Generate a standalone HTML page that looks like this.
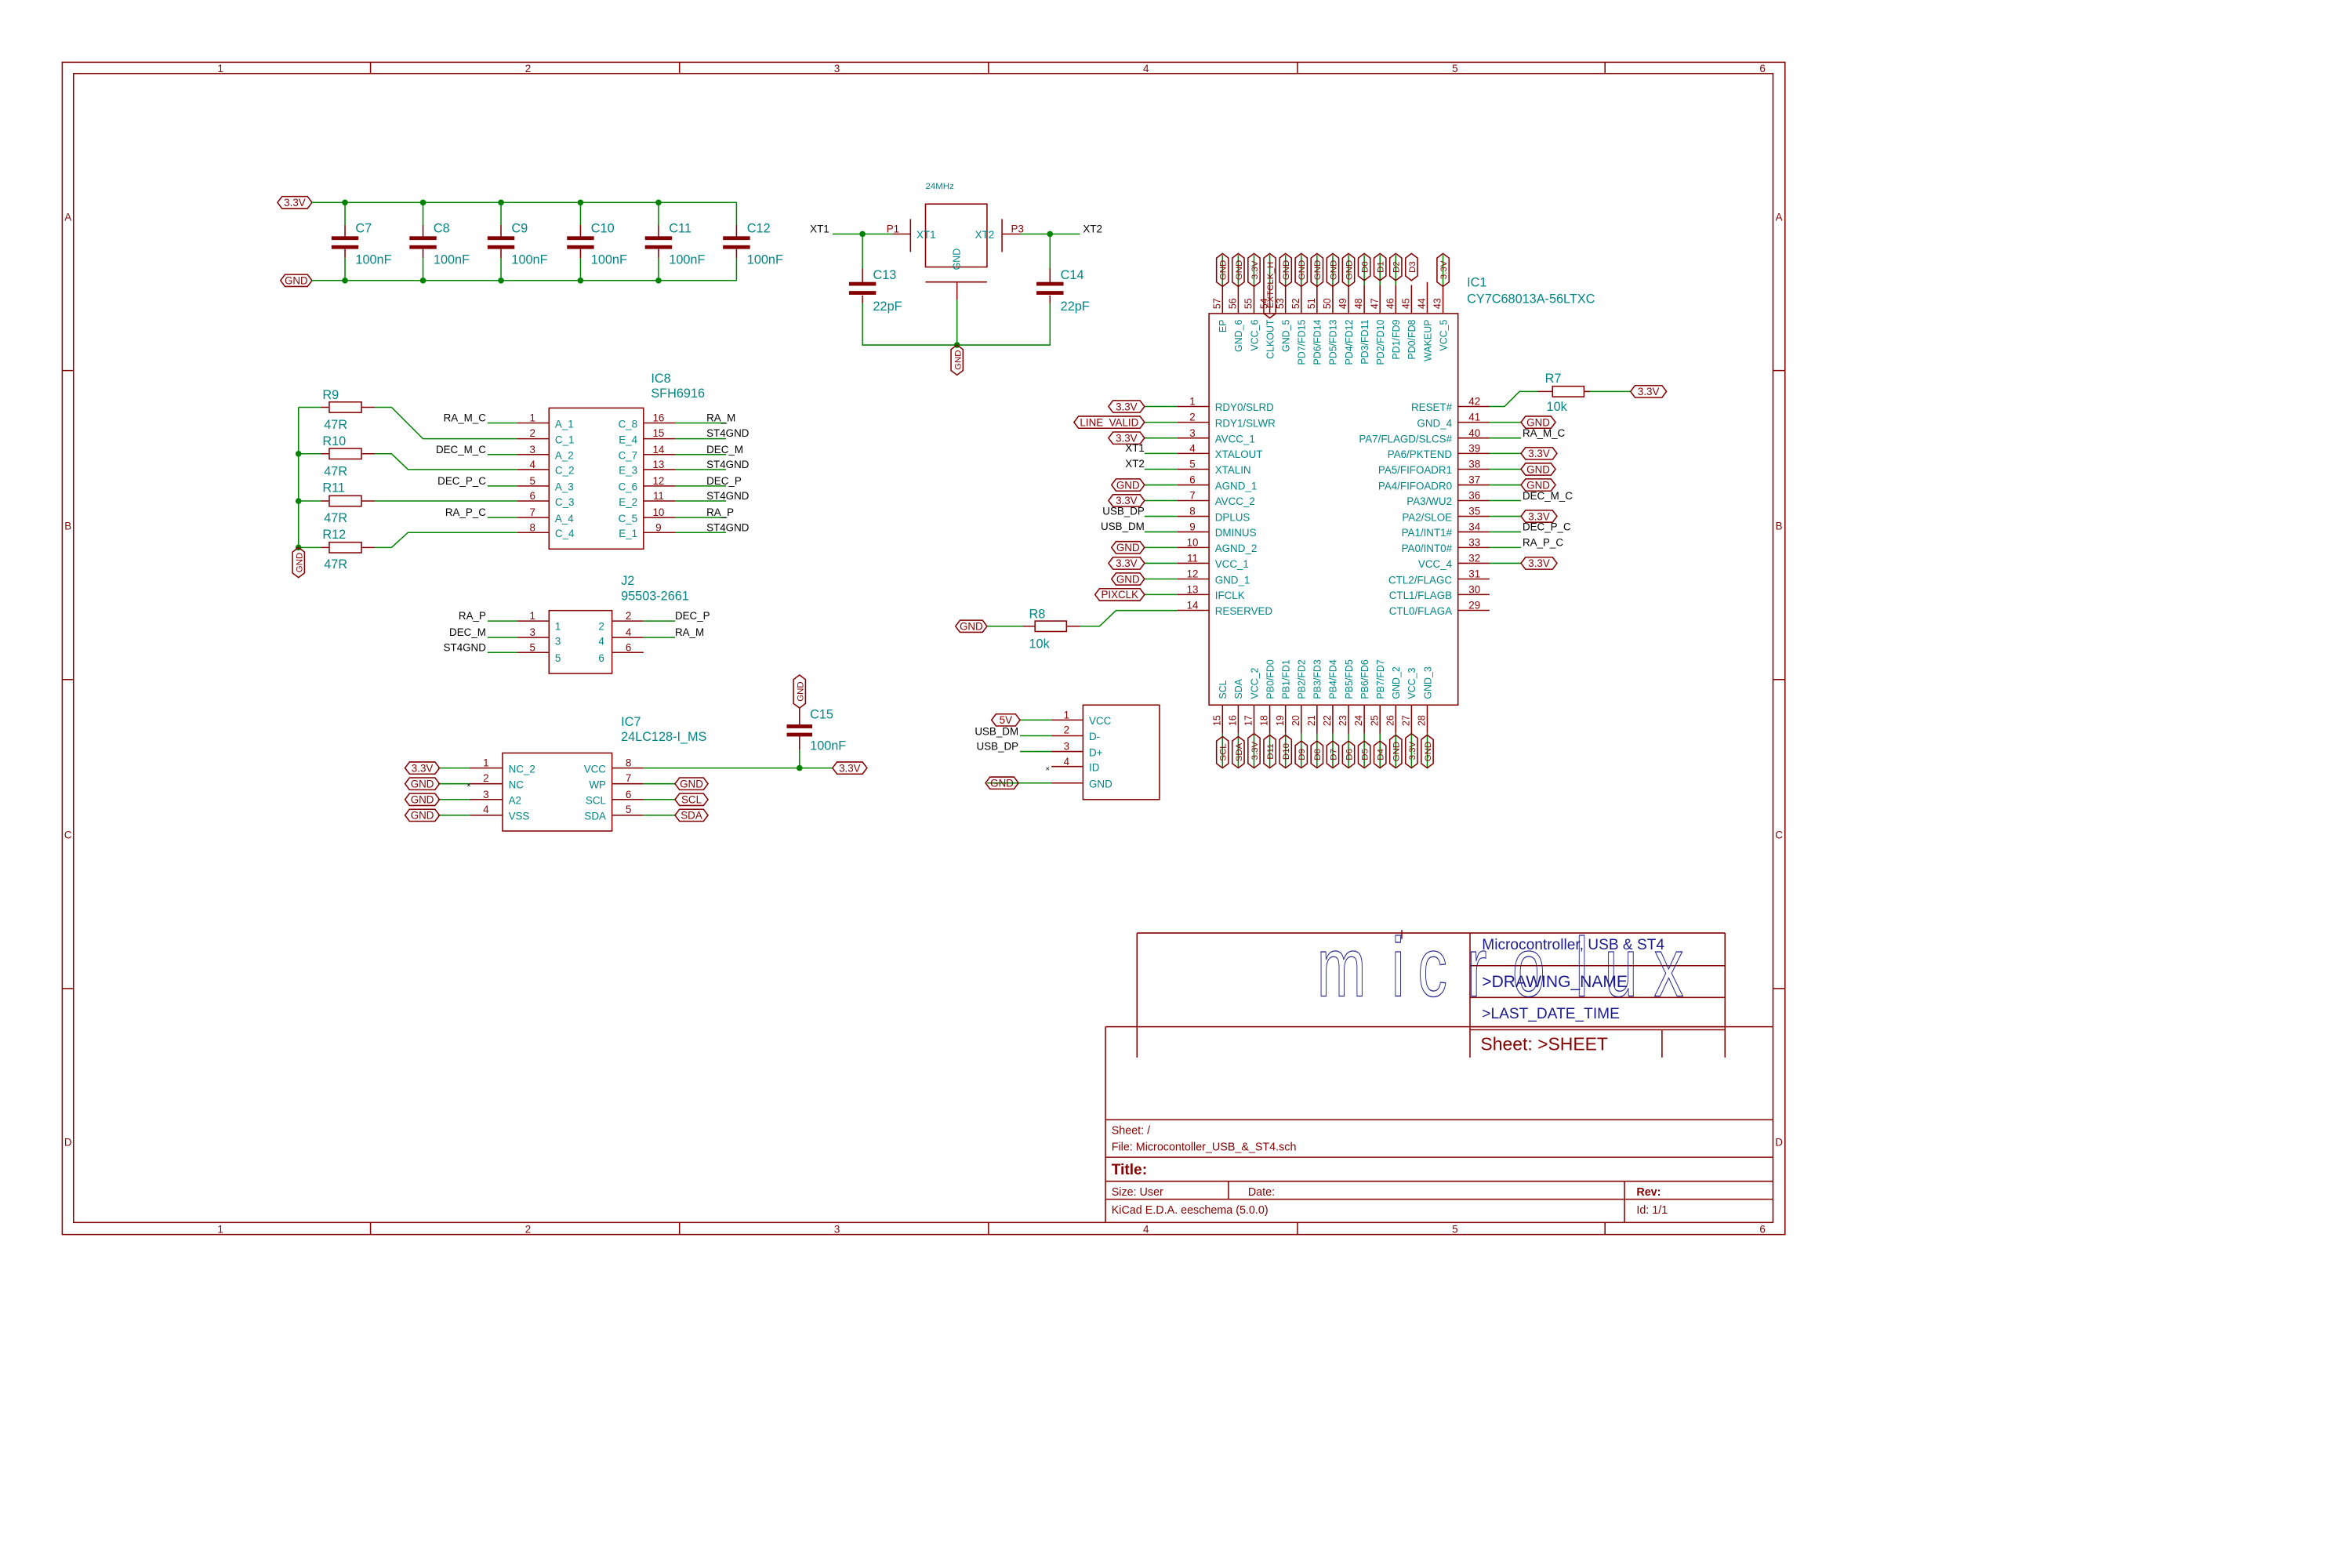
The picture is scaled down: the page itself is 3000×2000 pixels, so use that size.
<!DOCTYPE html>
<html><head><meta charset="utf-8"><style>
html,body{margin:0;padding:0;background:#fff;}
svg{display:block;}
.f{fill:none;stroke:#840000;stroke-width:0.8;}
.w{fill:none;stroke:#008400;stroke-width:0.8;}
.p{fill:none;stroke:#840000;stroke-width:0.8;}
text{font-family:"Liberation Sans",sans-serif;}
.t{fill:#008484;font-size:8.5px;}
.tn{fill:#008484;font-size:7px;}
.n{fill:#840000;font-size:7px;}
.k{fill:#000;font-size:7px;}
.fl{fill:#840000;font-size:7px;}
.fr{fill:#840000;font-size:7px;}
.dot{fill:#008400;}
.pl{fill:#840000;}
</style></head><body>
<svg width="3000" height="2000" viewBox="0 0 1568 1045.33" xmlns="http://www.w3.org/2000/svg">
<rect x="0" y="0" width="1568" height="1046" fill="#fff"/>
<!-- frame -->
<rect x="41.5" y="41.5" width="1148.5" height="781.5" class="f"/>
<rect x="49" y="49" width="1133" height="766" class="f"/>
<g class="f">
<path d="M247 41.5V49M453 41.5V49M659 41.5V49M865 41.5V49M1070 41.5V49"/>
<path d="M247 815V823M453 815V823M659 815V823M865 815V823M1070 815V823"/>
<path d="M41.5 247H49M41.5 453H49M41.5 659H49M1182 247H1190M1182 453H1190M1182 659H1190"/>
</g>
<g class="fr" text-anchor="middle" style="font-size:7px">
<text x="147" y="48">1</text><text x="352" y="48">2</text><text x="558" y="48">3</text><text x="764" y="48">4</text><text x="970" y="48">5</text><text x="1175" y="48">6</text>
<text x="147" y="822">1</text><text x="352" y="822">2</text><text x="558" y="822">3</text><text x="764" y="822">4</text><text x="970" y="822">5</text><text x="1175" y="822">6</text>
<text x="45.3" y="147">A</text><text x="45.3" y="353">B</text><text x="45.3" y="559">C</text><text x="45.3" y="764">D</text>
<text x="1186" y="147">A</text><text x="1186" y="353">B</text><text x="1186" y="559">C</text><text x="1186" y="764">D</text>
</g>

<!-- decoupling caps -->
<path class="f" d="M185 135L188 131H205L208 135L205 139H188Z"/><text class="fl" x="196.5" y="137.5" text-anchor="middle">3.3V</text>
<path class="f" d="M187 187L190 183H205L208 187L205 191H190Z"/><text class="fl" x="197.5" y="189.5" text-anchor="middle">GND</text>
<path class="w" d="M208 135H491V150M208 187H491V172"/>
<g class="w"><path d="M230 135V150M282 135V150M334 135V150M387 135V150M439 135V150M230 187V172M282 187V172M334 187V172M387 187V172M439 187V172"/></g>
<g class="p"><path d="M230 150V159M282 150V159M334 150V159M387 150V159M439 150V159M491 150V159M230 172V166M282 172V166M334 172V166M387 172V166M439 172V166M491 172V166"/></g>
<g class="pl">
<rect x="221" y="157.5" width="18" height="2.5"/><rect x="221" y="163.5" width="18" height="2.5"/>
<rect x="273" y="157.5" width="18" height="2.5"/><rect x="273" y="163.5" width="18" height="2.5"/>
<rect x="325" y="157.5" width="18" height="2.5"/><rect x="325" y="163.5" width="18" height="2.5"/>
<rect x="378" y="157.5" width="18" height="2.5"/><rect x="378" y="163.5" width="18" height="2.5"/>
<rect x="430" y="157.5" width="18" height="2.5"/><rect x="430" y="163.5" width="18" height="2.5"/>
<rect x="482" y="157.5" width="18" height="2.5"/><rect x="482" y="163.5" width="18" height="2.5"/>
</g>
<g class="dot"><circle cx="230" cy="135" r="2"/><circle cx="282" cy="135" r="2"/><circle cx="334" cy="135" r="2"/><circle cx="387" cy="135" r="2"/><circle cx="439" cy="135" r="2"/>
<circle cx="230" cy="187" r="2"/><circle cx="282" cy="187" r="2"/><circle cx="334" cy="187" r="2"/><circle cx="387" cy="187" r="2"/><circle cx="439" cy="187" r="2"/></g>
<g class="t">
<text x="237" y="155">C7</text><text x="237" y="176">100nF</text>
<text x="289" y="155">C8</text><text x="289" y="176">100nF</text>
<text x="341" y="155">C9</text><text x="341" y="176">100nF</text>
<text x="394" y="155">C10</text><text x="394" y="176">100nF</text>
<text x="446" y="155">C11</text><text x="446" y="176">100nF</text>
<text x="498" y="155">C12</text><text x="498" y="176">100nF</text>
</g>

<!-- crystal -->
<text class="tn" x="617" y="126" style="font-size:6px">24MHz</text>
<rect class="p" x="617" y="136" width="41" height="42"/>
<path class="p" d="M607 146V168M668 146V168M595 156H607M668 156H680M617 188H658M638 188V200"/>
<path class="w" d="M555 156H595M680 156H720M575 156V179M700 156V179M575 202V230H700V202M638 200V230"/>
<path class="p" d="M575 179V189M575 197V202M700 179V189M700 197V202"/>
<g class="pl"><rect x="566" y="188" width="18" height="2.5"/><rect x="566" y="194" width="18" height="2.5"/><rect x="691" y="188" width="18" height="2.5"/><rect x="691" y="194" width="18" height="2.5"/></g>
<g class="dot"><circle cx="575" cy="156" r="2"/><circle cx="700" cy="156" r="2"/><circle cx="638" cy="230" r="2"/></g>
<text class="k" x="540" y="155">XT1</text><text class="k" x="722" y="155">XT2</text>
<text class="n" x="591" y="155">P1</text><text class="n" x="674" y="155">P3</text>
<text class="tn" x="611" y="159">XT1</text><text class="tn" x="650" y="159">XT2</text>
<text class="tn" transform="translate(640,180) rotate(-90)" style="font-size:6.5px">GND</text>
<text class="t" x="582" y="186">C13</text><text class="t" x="582" y="207">22pF</text>
<text class="t" x="707" y="186">C14</text><text class="t" x="707" y="207">22pF</text>
<path class="f" d="M638 230L642 233V247L638 250L634 247V233Z"/><text class="fl" transform="translate(640.5,240) rotate(-90)" text-anchor="middle" style="font-size:6px">GND</text>

<!-- resistors R9-R12 -->
<path class="w" d="M199 271.5V365M199 271.5H214M199 302.5H214M199 334H214M199 365H214"/>
<path class="p" d="M214 271.5H219M214 302.5H219M214 334H219M214 365H219M241 271.5H250M241 302.5H250M241 334H250M241 365H250"/>
<g class="p"><rect x="219.5" y="268" width="21.5" height="7"/><rect x="219.5" y="299" width="21.5" height="7"/><rect x="219.5" y="330.5" width="21.5" height="7"/><rect x="219.5" y="361.5" width="21.5" height="7"/></g>
<path class="w" d="M250 271.5H261L282 292.5H345M250 302.5H261L272 313H345M250 334H345M250 365H261L272 355H345M325 282H345M325 303H345M325 324H345M325 345H345"/>
<g class="dot"><circle cx="199" cy="302.5" r="2"/><circle cx="199" cy="334" r="2"/><circle cx="199" cy="365" r="2"/></g>
<path class="f" d="M199 365L203 368V382L199 385L195 382V368Z"/><text class="fl" transform="translate(201.5,375) rotate(-90)" text-anchor="middle" style="font-size:6px">GND</text>
<g class="t"><text x="215" y="266">R9</text><text x="216" y="286">47R</text>
<text x="215" y="297">R10</text><text x="216" y="317">47R</text>
<text x="215" y="328">R11</text><text x="216" y="348">47R</text>
<text x="215" y="359">R12</text><text x="216" y="379">47R</text></g>

<!-- IC8 -->
<text class="t" x="434" y="255">IC8</text><text class="t" x="434" y="265">SFH6916</text>
<rect class="p" x="366" y="272" width="63" height="94"/>
<path class="p" d="M345 282H366M345 292.5H366M345 303H366M345 313H366M345 324H366M345 334H366M345 345H366M345 355H366M429 282H450M429 292.5H450M429 303H450M429 313H450M429 324H450M429 334H450M429 345H450M429 355H450"/>
<path class="w" d="M450 282H484M450 292.5H484M450 303H484M450 313H484M450 324H484M450 334H484M450 345H484M450 355H484"/>
<g class="n" text-anchor="middle"><text x="355" y="281">1</text><text x="355" y="291">2</text><text x="355" y="302">3</text><text x="355" y="312">4</text><text x="355" y="323">5</text><text x="355" y="333">6</text><text x="355" y="344">7</text><text x="355" y="354">8</text>
<text x="439" y="281">16</text><text x="439" y="291">15</text><text x="439" y="302">14</text><text x="439" y="312">13</text><text x="439" y="323">12</text><text x="439" y="333">11</text><text x="439" y="344">10</text><text x="439" y="354">9</text></g>
<g class="tn"><text x="370" y="285">A_1</text><text x="370" y="295.5">C_1</text><text x="370" y="306">A_2</text><text x="370" y="316">C_2</text><text x="370" y="327">A_3</text><text x="370" y="337">C_3</text><text x="370" y="348">A_4</text><text x="370" y="358">C_4</text></g>
<g class="tn" text-anchor="end"><text x="425" y="285">C_8</text><text x="425" y="295.5">E_4</text><text x="425" y="306">C_7</text><text x="425" y="316">E_3</text><text x="425" y="327">C_6</text><text x="425" y="337">E_2</text><text x="425" y="348">C_5</text><text x="425" y="358">E_1</text></g>
<g class="k" text-anchor="end"><text x="324" y="281">RA_M_C</text><text x="324" y="302">DEC_M_C</text><text x="324" y="323">DEC_P_C</text><text x="324" y="344">RA_P_C</text></g>
<g class="k"><text x="471" y="281">RA_M</text><text x="471" y="291">ST4GND</text><text x="471" y="302">DEC_M</text><text x="471" y="312">ST4GND</text><text x="471" y="323">DEC_P</text><text x="471" y="333">ST4GND</text><text x="471" y="344">RA_P</text><text x="471" y="354">ST4GND</text></g>

<!-- J2 -->
<text class="t" x="414" y="390">J2</text><text class="t" x="414" y="400">95503-2661</text>
<rect class="p" x="366" y="407" width="42" height="42"/>
<path class="p" d="M345 414H366M345 425H366M345 435H366M408 414H429M408 425H429M408 435H429"/>
<path class="w" d="M325 414H345M325 425H345M325 435H345M429 414H450M429 425H450"/>
<g class="n" text-anchor="middle"><text x="355" y="413">1</text><text x="355" y="424">3</text><text x="355" y="434">5</text><text x="419" y="413">2</text><text x="419" y="424">4</text><text x="419" y="434">6</text></g>
<g class="tn"><text x="370" y="420">1</text><text x="370" y="430">3</text><text x="370" y="441">5</text><text x="399" y="420">2</text><text x="399" y="430">4</text><text x="399" y="441">6</text></g>
<g class="k"><text x="324" y="413" text-anchor="end">RA_P</text><text x="324" y="424" text-anchor="end">DEC_M</text><text x="324" y="434" text-anchor="end">ST4GND</text><text x="450" y="413">DEC_P</text><text x="450" y="424">RA_M</text></g>

<!-- IC7 -->
<text class="t" x="414" y="484">IC7</text><text class="t" x="414" y="494">24LC128-I_MS</text>
<rect class="p" x="335" y="502" width="73" height="52"/>
<path class="p" d="M313 512H335M313 522.5H335M313 533H335M313 543.5H335M408 512H429M408 522.5H429M408 533H429M408 543.5H429"/>
<path class="w" d="M292 512H313M292 522.5H313M292 533H313M292 543.5H313M429 512H555M429 522.5H450M429 533H450M429 543.5H450"/>
<text class="k" x="311" y="525" style="font-size:5px">×</text>
<path class="f" d="M270 512L273 508H290L293 512L290 516H273Z"/><text class="fl" x="281.5" y="514.5" text-anchor="middle">3.3V</text>
<path class="f" d="M270 522.5L273 518.5H290L293 522.5L290 526.5H273Z"/><text class="fl" x="281.5" y="525" text-anchor="middle">GND</text>
<path class="f" d="M270 533L273 529H290L293 533L290 537H273Z"/><text class="fl" x="281.5" y="535.5" text-anchor="middle">GND</text>
<path class="f" d="M270 543.5L273 539.5H290L293 543.5L290 547.5H273Z"/><text class="fl" x="281.5" y="546" text-anchor="middle">GND</text>
<path class="f" d="M450 522.5L453 518.5H469L472 522.5L469 526.5H453Z"/><text class="fl" x="461" y="525" text-anchor="middle">GND</text>
<path class="f" d="M450 533L453 529H469L472 533L469 537H453Z"/><text class="fl" x="461" y="535.5" text-anchor="middle">SCL</text>
<path class="f" d="M450 543.5L453 539.5H469L472 543.5L469 547.5H453Z"/><text class="fl" x="461" y="546" text-anchor="middle">SDA</text>
<path class="f" d="M555 512L558 508H575L578 512L575 516H558Z"/><text class="fl" x="566.5" y="514.5" text-anchor="middle">3.3V</text>
<g class="n" text-anchor="middle"><text x="324" y="511">1</text><text x="324" y="521">2</text><text x="324" y="532">3</text><text x="324" y="542">4</text><text x="419" y="511">8</text><text x="419" y="521">7</text><text x="419" y="532">6</text><text x="419" y="542">5</text></g>
<g class="tn"><text x="339" y="515">NC_2</text><text x="339" y="525.5">NC</text><text x="339" y="536">A2</text><text x="339" y="546.5">VSS</text></g>
<g class="tn" text-anchor="end"><text x="404" y="515">VCC</text><text x="404" y="525.5">WP</text><text x="404" y="536">SCL</text><text x="404" y="546.5">SDA</text></g>
<!-- C15 -->
<path class="f" d="M533 450L537 453V469L533 472L529 469V453Z"/><text class="fl" transform="translate(535.5,461) rotate(-90)" text-anchor="middle" style="font-size:6px">GND</text>
<path class="p" d="M533 472V484M533 490V500"/><path class="w" d="M533 500V512"/>
<g class="pl"><rect x="524.5" y="483" width="17" height="2.5"/><rect x="524.5" y="488.5" width="17" height="2.5"/></g>
<circle class="dot" cx="533" cy="512" r="2"/>
<text class="t" x="540" y="479">C15</text><text class="t" x="540" y="500">100nF</text>

<!-- USB -->
<rect class="p" x="722" y="470" width="51" height="63"/>
<path class="p" d="M701 480H722M701 490.5H722M701 501H722M701 511H722M701 522H722"/>
<path class="w" d="M680 480H701M680 490.5H701M680 501H701M658 522H701"/>
<text class="k" x="697" y="514" style="font-size:5px">×</text>
<path class="f" d="M661 480L664 476H677L680 480L677 484H664Z"/><text class="fl" x="670.5" y="482.5" text-anchor="middle">5V</text>
<path class="f" d="M657 522L660 518H676L679 522L676 526H660Z"/><text class="fl" x="668" y="524.5" text-anchor="middle">GND</text>
<text class="k" x="679" y="490" text-anchor="end">USB_DM</text><text class="k" x="679" y="500" text-anchor="end">USB_DP</text>
<g class="n" text-anchor="middle"><text x="711" y="479">1</text><text x="711" y="489">2</text><text x="711" y="500">3</text><text x="711" y="510">4</text></g>
<g class="tn"><text x="726" y="483">VCC</text><text x="726" y="493.5">D-</text><text x="726" y="504">D+</text><text x="726" y="514">ID</text><text x="726" y="525">GND</text></g>

<!-- R8 -->
<path class="f" d="M637 417.5L640 413.5H655L658 417.5L655 421.5H640Z"/><text class="fl" x="647.5" y="420" text-anchor="middle">GND</text>
<path class="w" d="M658 417.5H682M720 417.5H733L744 407H785"/>
<path class="p" d="M682 417.5H690M711 417.5H720"/><rect class="p" x="690" y="414" width="21" height="7"/>
<text class="t" x="686" y="412">R8</text><text class="t" x="686" y="432">10k</text>

<!-- IC1 -->
<text class="t" x="978" y="191">IC1</text><text class="t" x="978" y="202">CY7C68013A-56LTXC</text>
<rect class="p" x="806" y="209" width="166" height="261"/>
<g class="p"><path d="M785 271H806M785 281.5H806M785 292H806M785 302.3H806M785 312.8H806M785 323.3H806M785 333.7H806M785 344.2H806M785 354.6H806M785 365H806M785 375.5H806M785 386H806M785 396.4H806M785 406.9H806"/></g>
<g class="w"><path d="M763 271H785M763 281.5H785M763 292H785M763 302.3H785M763 312.8H785M763 323.3H785M763 333.7H785M763 344.2H785M763 354.6H785M763 365H785M763 375.5H785M763 386H785M763 396.4H785"/></g>
<g class="n" text-anchor="middle"><text x="795" y="270">1</text><text x="795" y="280.5">2</text><text x="795" y="291">3</text><text x="795" y="301.3">4</text><text x="795" y="311.8">5</text><text x="795" y="322.3">6</text><text x="795" y="332.7">7</text><text x="795" y="343.2">8</text><text x="795" y="353.6">9</text><text x="795" y="364">10</text><text x="795" y="374.5">11</text><text x="795" y="385">12</text><text x="795" y="395.4">13</text><text x="795" y="405.9">14</text></g>
<g class="tn"><text x="810" y="274">RDY0/SLRD</text><text x="810" y="284.5">RDY1/SLWR</text><text x="810" y="295">AVCC_1</text><text x="810" y="305.3">XTALOUT</text><text x="810" y="315.8">XTALIN</text><text x="810" y="326.3">AGND_1</text><text x="810" y="336.7">AVCC_2</text><text x="810" y="347.2">DPLUS</text><text x="810" y="357.6">DMINUS</text><text x="810" y="368">AGND_2</text><text x="810" y="378.5">VCC_1</text><text x="810" y="389">GND_1</text><text x="810" y="399.4">IFCLK</text><text x="810" y="409.9">RESERVED</text></g>
<path class="f" d="M739 271L742 267H760L763 271L760 275H742Z"/><text class="fl" x="751" y="273.5" text-anchor="middle">3.3V</text>
<path class="f" d="M716 281.5L719 277.5H760L763 281.5L760 285.5H719Z"/><text class="fl" x="739.5" y="284" text-anchor="middle">LINE_VALID</text>
<path class="f" d="M739 292L742 288H760L763 292L760 296H742Z"/><text class="fl" x="751" y="294.5" text-anchor="middle">3.3V</text>
<text class="k" x="763" y="301" text-anchor="end">XT1</text><text class="k" x="763" y="311.5" text-anchor="end">XT2</text>
<path class="f" d="M741 323.3L744 319.3H760L763 323.3L760 327.3H744Z"/><text class="fl" x="752" y="325.8" text-anchor="middle">GND</text>
<path class="f" d="M739 333.7L742 329.7H760L763 333.7L760 337.7H742Z"/><text class="fl" x="751" y="336.2" text-anchor="middle">3.3V</text>
<text class="k" x="763" y="343" text-anchor="end">USB_DP</text><text class="k" x="763" y="353.4" text-anchor="end">USB_DM</text>
<path class="f" d="M741 365L744 361H760L763 365L760 369H744Z"/><text class="fl" x="752" y="367.5" text-anchor="middle">GND</text>
<path class="f" d="M739 375.5L742 371.5H760L763 375.5L760 379.5H742Z"/><text class="fl" x="751" y="378" text-anchor="middle">3.3V</text>
<path class="f" d="M741 386L744 382H760L763 386L760 390H744Z"/><text class="fl" x="752" y="388.5" text-anchor="middle">GND</text>
<path class="f" d="M730 396.4L733 392.4H760L763 396.4L760 400.4H733Z"/><text class="fl" x="746.5" y="398.9" text-anchor="middle">PIXCLK</text>
<g class="p"><path d="M972 271H993M972 281.5H993M972 292H993M972 302.3H993M972 312.8H993M972 323.3H993M972 333.7H993M972 344.2H993M972 354.6H993M972 365H993M972 375.5H993M972 386H993M972 396.4H993M972 406.9H993"/></g>
<g class="w"><path d="M993 271H1003L1013 261H1025M1056 261H1087M993 281.5H1014M993 292H1014M993 302.3H1014M993 312.8H1014M993 323.3H1014M993 333.7H1014M993 344.2H1014M993 354.6H1014M993 365H1014M993 375.5H1014"/></g>
<path class="p" d="M1025 261H1035M1056 261H1060"/><rect class="p" x="1035" y="257.5" width="21" height="7"/>
<text class="t" x="1030" y="255">R7</text><text class="t" x="1031" y="274">10k</text>
<path class="f" d="M1087 261L1090 257H1108L1111 261L1108 265H1090Z"/><text class="fl" x="1099" y="263.5" text-anchor="middle">3.3V</text>
<g class="n" text-anchor="middle"><text x="983" y="270">42</text><text x="983" y="280.5">41</text><text x="983" y="291">40</text><text x="983" y="301.3">39</text><text x="983" y="311.8">38</text><text x="983" y="322.3">37</text><text x="983" y="332.7">36</text><text x="983" y="343.2">35</text><text x="983" y="353.6">34</text><text x="983" y="364">33</text><text x="983" y="374.5">32</text><text x="983" y="385">31</text><text x="983" y="395.4">30</text><text x="983" y="405.9">29</text></g>
<g class="tn" text-anchor="end"><text x="968" y="274">RESET#</text><text x="968" y="284.5">GND_4</text><text x="968" y="295">PA7/FLAGD/SLCS#</text><text x="968" y="305.3">PA6/PKTEND</text><text x="968" y="315.8">PA5/FIFOADR1</text><text x="968" y="326.3">PA4/FIFOADR0</text><text x="968" y="336.7">PA3/WU2</text><text x="968" y="347.2">PA2/SLOE</text><text x="968" y="357.6">PA1/INT1#</text><text x="968" y="368">PA0/INT0#</text><text x="968" y="378.5">VCC_4</text><text x="968" y="389">CTL2/FLAGC</text><text x="968" y="399.4">CTL1/FLAGB</text><text x="968" y="409.9">CTL0/FLAGA</text></g>
<path class="f" d="M1014 281.5L1017 277.5H1034L1037 281.5L1034 285.5H1017Z"/><text class="fl" x="1025.5" y="284" text-anchor="middle">GND</text>
<text class="k" x="1015" y="291">RA_M_C</text>
<path class="f" d="M1014 302.3L1017 298.3H1035L1038 302.3L1035 306.3H1017Z"/><text class="fl" x="1026" y="304.8" text-anchor="middle">3.3V</text>
<path class="f" d="M1014 312.8L1017 308.8H1034L1037 312.8L1034 316.8H1017Z"/><text class="fl" x="1025.5" y="315.3" text-anchor="middle">GND</text>
<path class="f" d="M1014 323.3L1017 319.3H1034L1037 323.3L1034 327.3H1017Z"/><text class="fl" x="1025.5" y="325.8" text-anchor="middle">GND</text>
<text class="k" x="1015" y="333">DEC_M_C</text>
<path class="f" d="M1014 344.2L1017 340.2H1035L1038 344.2L1035 348.2H1017Z"/><text class="fl" x="1026" y="346.7" text-anchor="middle">3.3V</text>
<text class="k" x="1015" y="353.5">DEC_P_C</text>
<text class="k" x="1015" y="364">RA_P_C</text>
<path class="f" d="M1014 375.5L1017 371.5H1035L1038 375.5L1035 379.5H1017Z"/><text class="fl" x="1026" y="378" text-anchor="middle">3.3V</text>
<g class="p"><path d="M815 190V209M825.5 190V209M836 190V209M846.5 190V209M857 190V209M867.5 190V209M878 190V209M888.5 190V209M899 190V209M909.5 190V209M920 190V209M930.5 190V209M941 190V209M951.5 188V209M962 190V209"/></g>
<g class="w"><path d="M815 170V190M825.5 170V190M836 170V190M846.5 170V190M857 170V190M867.5 170V190M878 170V190M888.5 170V190M899 170V190M909.5 170V190M920 170V190M930.5 170V190M962 170V190"/></g>
<g class="f">
<path d="M815 169L819 172V188L815 191L811 188V172Z"/><path d="M825.5 169L829.5 172V188L825.5 191L821.5 188V172Z"/><path d="M836 169L840 172V188L836 191L832 188V172Z"/><path d="M846.5 169L850.5 172V209L846.5 212L842.5 209V172Z"/><path d="M857 169L861 172V188L857 191L853 188V172Z"/><path d="M867.5 169L871.5 172V188L867.5 191L863.5 188V172Z"/><path d="M878 169L882 172V188L878 191L874 188V172Z"/><path d="M888.5 169L892.5 172V188L888.5 191L884.5 188V172Z"/><path d="M899 169L903 172V188L899 191L895 188V172Z"/><path d="M909.5 169L913.5 172V184L909.5 187L905.5 184V172Z"/><path d="M920 169L924 172V184L920 187L916 184V172Z"/><path d="M930.5 169L934.5 172V184L930.5 187L926.5 184V172Z"/><path d="M941 169L945 172V184L941 187L937 184V172Z"/><path d="M962 169L966 172V188L962 191L958 188V172Z"/>
</g>
<g class="fl" text-anchor="middle" style="font-size:6px">
<text transform="translate(817.3,180) rotate(-90)">GND</text><text transform="translate(827.8,180) rotate(-90)">GND</text><text transform="translate(838.3,180) rotate(-90)">3.3V</text><text transform="translate(848.8,190) rotate(-90)">EXTCLK_H</text><text transform="translate(859.3,180) rotate(-90)">GND</text><text transform="translate(869.8,180) rotate(-90)">GND</text><text transform="translate(880.3,180) rotate(-90)">GND</text><text transform="translate(890.8,180) rotate(-90)">GND</text><text transform="translate(901.3,180) rotate(-90)">GND</text><text transform="translate(911.8,178) rotate(-90)">D0</text><text transform="translate(922.3,178) rotate(-90)">D1</text><text transform="translate(932.8,178) rotate(-90)">D2</text><text transform="translate(943.3,178) rotate(-90)">D3</text><text transform="translate(964.3,180) rotate(-90)">3.3V</text>
</g>
<g class="n" style="font-size:6.5px">
<text transform="translate(813.5,206) rotate(-90)">57</text><text transform="translate(824,206) rotate(-90)">56</text><text transform="translate(834.5,206) rotate(-90)">55</text><text transform="translate(845,206) rotate(-90)">54</text><text transform="translate(855.5,206) rotate(-90)">53</text><text transform="translate(866,206) rotate(-90)">52</text><text transform="translate(876.5,206) rotate(-90)">51</text><text transform="translate(887,206) rotate(-90)">50</text><text transform="translate(897.5,206) rotate(-90)">49</text><text transform="translate(908,206) rotate(-90)">48</text><text transform="translate(918.5,206) rotate(-90)">47</text><text transform="translate(929,206) rotate(-90)">46</text><text transform="translate(939.5,206) rotate(-90)">45</text><text transform="translate(950,206) rotate(-90)">44</text><text transform="translate(960.5,206) rotate(-90)">43</text>
</g>
<g class="tn" text-anchor="end" style="font-size:6.5px">
<text transform="translate(817.5,213) rotate(-90)">EP</text><text transform="translate(828,213) rotate(-90)">GND_6</text><text transform="translate(838.5,213) rotate(-90)">VCC_6</text><text transform="translate(849,213) rotate(-90)">CLKOUT</text><text transform="translate(859.5,213) rotate(-90)">GND_5</text><text transform="translate(870,213) rotate(-90)">PD7/FD15</text><text transform="translate(880.5,213) rotate(-90)">PD6/FD14</text><text transform="translate(891,213) rotate(-90)">PD5/FD13</text><text transform="translate(901.5,213) rotate(-90)">PD4/FD12</text><text transform="translate(912,213) rotate(-90)">PD3/FD11</text><text transform="translate(922.5,213) rotate(-90)">PD2/FD10</text><text transform="translate(933,213) rotate(-90)">PD1/FD9</text><text transform="translate(943.5,213) rotate(-90)">PD0/FD8</text><text transform="translate(954,213) rotate(-90)">WAKEUP</text><text transform="translate(964.5,213) rotate(-90)">VCC_5</text>
</g>
<g class="p"><path d="M815 470V489M825.5 470V489M836 470V489M846.5 470V489M857 470V489M867.5 470V489M878 470V489M888.5 470V489M899 470V489M909.5 470V489M920 470V489M930.5 470V489M941 470V489M951.5 470V489"/></g>
<g class="w"><path d="M815 489V512M825.5 489V512M836 489V512M846.5 489V512M857 489V512M867.5 489V512M878 489V512M888.5 489V512M899 489V512M909.5 489V512M920 489V512M930.5 489V512M941 489V512M951.5 489V512"/></g>
<g class="f">
<path d="M815 491L819 494V509L815 512L811 509V494Z"/><path d="M825.5 491L829.5 494V509L825.5 512L821.5 509V494Z"/><path d="M836 489L840 492V509L836 512L832 509V492Z"/><path d="M846.5 490L850.5 493V509L846.5 512L842.5 509V493Z"/><path d="M857 490L861 493V509L857 512L853 509V493Z"/><path d="M867.5 494L871.5 497V509L867.5 512L863.5 509V497Z"/><path d="M878 494L882 497V509L878 512L874 509V497Z"/><path d="M888.5 494L892.5 497V509L888.5 512L884.5 509V497Z"/><path d="M899 494L903 497V509L899 512L895 509V497Z"/><path d="M909.5 494L913.5 497V509L909.5 512L905.5 509V497Z"/><path d="M920 494L924 497V509L920 512L916 509V497Z"/><path d="M930.5 490L934.5 493V509L930.5 512L926.5 509V493Z"/><path d="M941 489L945 492V509L941 512L937 509V492Z"/><path d="M951.5 490L955.5 493V509L951.5 512L947.5 509V493Z"/>
</g>
<g class="fl" text-anchor="middle" style="font-size:6px">
<text transform="translate(817.3,501.5) rotate(-90)">SCL</text><text transform="translate(827.8,501.5) rotate(-90)">SDA</text><text transform="translate(838.3,500.5) rotate(-90)">3.3V</text><text transform="translate(848.8,501) rotate(-90)">D11</text><text transform="translate(859.3,501) rotate(-90)">D10</text><text transform="translate(869.8,503) rotate(-90)">D9</text><text transform="translate(880.3,503) rotate(-90)">D8</text><text transform="translate(890.8,503) rotate(-90)">D7</text><text transform="translate(901.3,503) rotate(-90)">D6</text><text transform="translate(911.8,503) rotate(-90)">D5</text><text transform="translate(922.3,503) rotate(-90)">D4</text><text transform="translate(932.8,501) rotate(-90)">GND</text><text transform="translate(943.3,500.5) rotate(-90)">3.3V</text><text transform="translate(953.8,501) rotate(-90)">GND</text>
</g>
<g class="n" style="font-size:6.5px">
<text transform="translate(813.5,484) rotate(-90)">15</text><text transform="translate(824,484) rotate(-90)">16</text><text transform="translate(834.5,484) rotate(-90)">17</text><text transform="translate(845,484) rotate(-90)">18</text><text transform="translate(855.5,484) rotate(-90)">19</text><text transform="translate(866,484) rotate(-90)">20</text><text transform="translate(876.5,484) rotate(-90)">21</text><text transform="translate(887,484) rotate(-90)">22</text><text transform="translate(897.5,484) rotate(-90)">23</text><text transform="translate(908,484) rotate(-90)">24</text><text transform="translate(918.5,484) rotate(-90)">25</text><text transform="translate(929,484) rotate(-90)">26</text><text transform="translate(939.5,484) rotate(-90)">27</text><text transform="translate(950,484) rotate(-90)">28</text>
</g>
<g class="tn" style="font-size:6.5px">
<text transform="translate(817.5,466) rotate(-90)">SCL</text><text transform="translate(828,466) rotate(-90)">SDA</text><text transform="translate(838.5,466) rotate(-90)">VCC_2</text><text transform="translate(849,466) rotate(-90)">PB0/FD0</text><text transform="translate(859.5,466) rotate(-90)">PB1/FD1</text><text transform="translate(870,466) rotate(-90)">PB2/FD2</text><text transform="translate(880.5,466) rotate(-90)">PB3/FD3</text><text transform="translate(891,466) rotate(-90)">PB4/FD4</text><text transform="translate(901.5,466) rotate(-90)">PB5/FD5</text><text transform="translate(912,466) rotate(-90)">PB6/FD6</text><text transform="translate(922.5,466) rotate(-90)">PB7/FD7</text><text transform="translate(933,466) rotate(-90)">GND_2</text><text transform="translate(943.5,466) rotate(-90)">VCC_3</text><text transform="translate(954,466) rotate(-90)">GND_3</text>
</g>

<!-- title block / logo -->
<g class="f">
<path d="M758 622H1150M758 622V705M1150 622V705M980 622V705M980 643.8H1150M980 665H1150M980 684.5H1150M980 686.5H1150M1108 686.5V705"/>
<path d="M737 684.5H1182M737 684.5V815M737 746.5H1182M737 771.5H1182M737 787.5H1182M737 799.5H1182M819 787.5V799.5M1083 787.5V815"/>
<path d="M934.5 620V626"/>
</g>
<g transform="translate(878,664) scale(0.7,1)">
<text x="0 71 96 143 186 246 274 321" y="0" style="font-size:56px;fill:none;stroke:#2a2a90;stroke-width:0.7">microlux</text>
</g>
<g style="fill:#1a1a8c">
<text x="988" y="633" style="font-size:10px">Microcontroller, USB &amp; ST4</text>
<text x="988" y="658" style="font-size:11px">&gt;DRAWING_NAME</text>
<text x="988" y="679" style="font-size:10px">&gt;LAST_DATE_TIME</text>
</g>
<text x="987" y="700" style="font-size:12px;fill:#840000">Sheet:   &gt;SHEET</text>
<g style="fill:#840000;font-size:7.5px">
<text x="741" y="756">Sheet: /</text>
<text x="741" y="767">File: Microcontoller_USB_&amp;_ST4.sch</text>
<text x="741" y="783" style="font-size:10px;font-weight:bold">Title:</text>
<text x="741" y="797">Size: User</text>
<text x="832" y="797">Date:</text>
<text x="1091" y="797" style="font-weight:bold">Rev:</text>
<text x="741" y="809">KiCad E.D.A.  eeschema (5.0.0)</text>
<text x="1091" y="809">Id: 1/1</text>
</g>
</svg>
</body></html>
